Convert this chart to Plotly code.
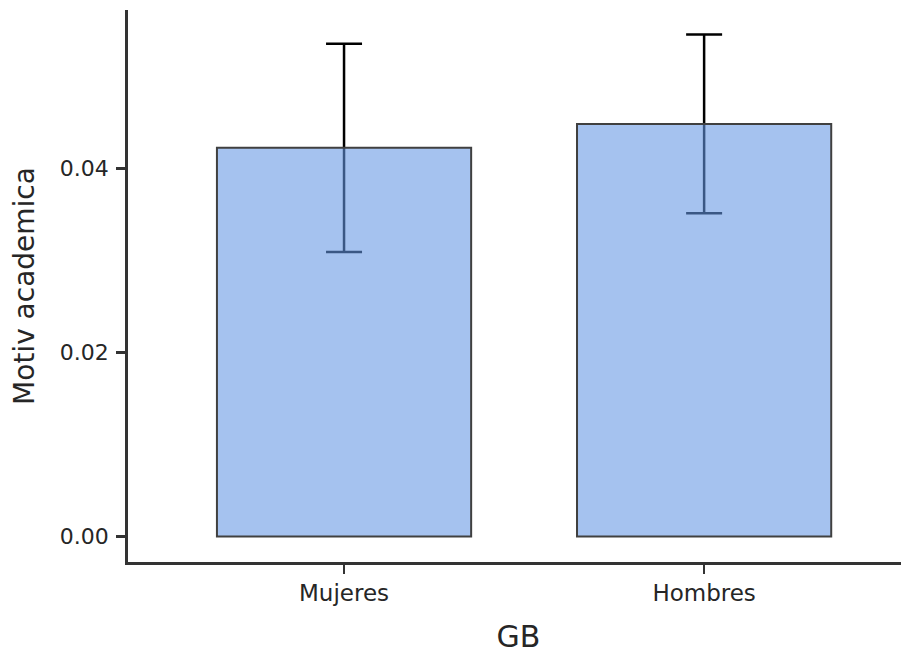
import plotly.graph_objects as go

GROUPS = ["Mujeres", "Hombres"]
MEANS = [0.0422, 0.0448]
ERRORS = [0.0113, 0.0097]
Y_TICKS = [0.0, 0.02, 0.04]
Y_TICK_TEXT = ["0.00", "0.02", "0.04"]

FONT = "DejaVu Sans"
TEXT = "#262626"
AXIS = "#333333"

fig = go.Figure()
# error bars first so the semi-transparent bars cover their lower part
fig.add_bar(
    x=GROUPS,
    y=MEANS,
    width=0.706,
    marker=dict(color="rgba(0,0,0,0)", line=dict(width=0)),
    error_y=dict(type="data", array=ERRORS, color="black", thickness=2.5, width=18),
    showlegend=False,
    hoverinfo="skip",
)
fig.add_bar(
    x=GROUPS,
    y=MEANS,
    width=0.706,
    marker=dict(color="rgba(100,150,228,0.58)", line=dict(color="#404040", width=2)),
    showlegend=False,
)

# the page body adds an 8px margin, so the figure is 8px smaller than the window
fig.update_layout(
    barmode="overlay",
    width=901,
    height=646,
    margin=dict(l=120, r=0, t=2, b=92),
    plot_bgcolor="white",
    paper_bgcolor="white",
    font=dict(family=FONT, color=TEXT),
)
fig.update_xaxes(
    range=[-0.6, 1.569],
    automargin=False,
    showline=True,
    linecolor=AXIS,
    linewidth=2.5,
    showgrid=False,
    zeroline=False,
    ticks="outside",
    ticklen=9,
    tickwidth=2,
    tickcolor=AXIS,
    tickfont=dict(size=23, color=TEXT),
    ticklabelstandoff=0,
    title=dict(text="GB", font=dict(size=30, color=TEXT), standoff=24),
)
fig.update_yaxes(
    range=[-0.00278, 0.05717],
    automargin=False,
    tickvals=Y_TICKS,
    ticktext=Y_TICK_TEXT,
    showline=True,
    linecolor=AXIS,
    linewidth=2.5,
    showgrid=False,
    zeroline=False,
    ticks="outside",
    ticklen=9,
    tickwidth=2.5,
    tickcolor=AXIS,
    tickfont=dict(size=22, color=TEXT),
    ticklabelstandoff=3,
    title=dict(text="Motiv academica", font=dict(size=28, color=TEXT), standoff=24),
)

fig.write_html("out.html")
